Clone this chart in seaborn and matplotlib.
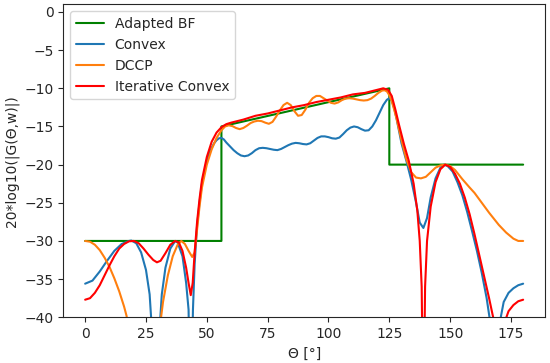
import matplotlib
matplotlib.use("Agg")
import matplotlib.pyplot as plt
import seaborn as sns

# Adapted beamformer target mask
bf_theta = [0, 56, 56, 125, 125, 180]
bf_gain = [-30, -30, -15, -10, -20, -20]

# Convex solution
cvx_theta = [0, 3, 6, 9, 12, 15, 18, 19, 21, 23, 25, 26.5, 27.5, 29, 30.5, 31.5, 33, 35, 37, 38,
             40, 41.5, 42.5, 43.4, 44.3, 45, 46, 47, 48, 50, 51, 52, 53, 54, 55, 56, 57, 58, 59.5,
             61, 62.5, 64, 65.5, 67, 68.5, 70, 71.5, 73, 74.5, 76, 77.5, 79, 80.5, 82, 83.5, 85,
             86.5, 88, 89.5, 91, 92.5, 94, 95.5, 97, 98.5, 100, 101.5, 103, 104.5, 106, 107.5, 109,
             110.5, 112, 113.5, 115, 116.5, 118, 119.5, 121, 122.5, 124, 125, 126, 127, 128, 129,
             130, 132, 134, 136, 137.5, 139, 140.5, 142, 144, 146, 147.5, 149, 151, 153, 155, 157,
             159, 161, 163, 165, 166.4, 168, 170.5, 172, 174, 176, 178, 180]
cvx_gain = [-35.6, -35.2, -34.0, -32.6, -31.3, -30.4, -30.0, -29.95, -30.3, -31.5, -33.8, -37, -42, -55,
            -42, -37, -33.5, -31, -30.0, -30.2, -32, -35.5, -39, -55, -39, -33, -28, -25, -22.5, -19.5,
            -18.5, -17.8, -17.2, -16.8, -16.55, -16.5, -16.7, -17.1, -17.6, -18.1, -18.5, -18.8, -18.9,
            -18.8, -18.5, -18.1, -17.85, -17.8, -17.85, -17.95, -18.05, -18.1, -17.95, -17.7, -17.45,
            -17.25, -17.15, -17.2, -17.3, -17.35, -17.2, -16.85, -16.5, -16.3, -16.3, -16.4, -16.55,
            -16.6, -16.45, -16.0, -15.5, -15.15, -15.0, -15.1, -15.35, -15.55, -15.5, -15.0, -14.2,
            -13.2, -12.2, -11.5, -11.3, -11.6, -12.6, -14.0, -15.6, -17.2, -19.5, -22, -25, -27.6,
            -28.3, -27, -24.3, -21.8, -20.4, -20.0, -20.2, -20.9, -22.3, -24, -26.2, -28.7, -31.3,
            -34.2, -37.5, -40.5, -50, -40.5, -38, -36.8, -36.2, -35.8, -35.6]

# DCCP solution
dccp_theta = [0, 2, 4, 6, 8, 10, 12, 14, 16, 17, 18, 20, 24, 28, 30, 31, 32, 34, 36, 38, 39.5, 41,
              42.5, 44, 45, 46, 47, 48, 50, 52, 54, 56, 57.5, 59, 60.5, 62, 63.5, 65, 66.5, 68, 69.5,
              71, 72.5, 74, 75.5, 77, 78.5, 80, 81.5, 83, 84.5, 86, 87.5, 89, 90.5, 92, 93.5, 95,
              96.5, 98, 99.5, 101, 102.5, 104, 105.5, 107, 108.5, 110, 111.5, 113, 114.5, 116, 117.5,
              119, 120.5, 122, 123, 124, 125, 126, 127, 128, 129, 130, 132, 134, 136, 138, 140, 142,
              144, 146, 148, 150, 152, 155, 158, 160, 163, 166, 170, 173, 176, 178, 180]
dccp_gain = [-30.0, -30.1, -30.5, -31.2, -32.2, -33.4, -34.9, -36.6, -38.6, -39.8, -41.5, -45, -55, -48,
             -43, -40.5, -38, -34.5, -32, -30.5, -30.0, -30.4, -31.3, -32.1, -31.5, -28.5, -25.5, -23,
             -20, -18, -16.5, -15.5, -15.0, -14.85, -14.95, -15.2, -15.35, -15.2, -14.9, -14.55,
             -14.35, -14.25, -14.3, -14.5, -14.65, -14.4, -13.7, -12.9, -12.2, -11.9, -12.2, -13.0,
             -13.6, -13.5, -12.8, -11.9, -11.3, -11.0, -11.0, -11.3, -11.6, -11.9, -12.0, -11.85,
             -11.55, -11.35, -11.3, -11.35, -11.45, -11.55, -11.6, -11.55, -11.35, -11.0, -10.6,
             -10.3, -10.25, -10.4, -10.9, -11.7, -12.8, -14.0, -15.4, -16.8, -19.3, -21.0, -21.7,
             -21.8, -21.6, -21.0, -20.4, -20.1, -20.0, -20.2, -20.7, -21.9, -23.0, -23.7, -25.0,
             -26.3, -27.9, -28.9, -29.7, -30.0, -30.0]

# Iterative convex solution
itc_theta = [0, 2, 4, 6, 8, 10, 12, 14, 16, 18, 20, 22, 24, 26, 28, 29.5, 31, 33, 35, 37, 38.5, 40,
             41.5, 42.5, 43.4, 44.2, 45, 46, 47, 48, 50, 52, 54, 56, 58, 60, 65, 70, 75, 80, 85, 90,
             95, 100, 105, 110, 115, 120, 122.5, 124.5, 126, 127.5, 129, 131, 133, 135, 136.5, 137.5,
             138.3, 139, 139.7, 140.5, 142, 144, 146, 148, 150, 152, 154, 156, 158, 160, 162, 164, 166,
             168, 170, 172, 174, 176, 178, 180]
itc_gain = [-37.7, -37.5, -36.8, -35.8, -34.5, -33.2, -32.0, -31.0, -30.4, -30.05, -30.0, -30.3, -31.0,
            -31.8, -32.5, -32.8, -32.6, -31.6, -30.5, -30.0, -30.2, -31.3, -33.5, -35.5, -37.1, -35.5,
            -31.5, -27.5, -24.5, -22, -19, -17, -15.8, -15.1, -14.7, -14.5, -14.1, -13.6, -13.3, -12.9,
            -12.5, -12.2, -11.8, -11.5, -11.2, -10.8, -10.6, -10.2, -10.0, -10.2, -11, -12.8, -14.8,
            -17.3, -19.5, -22.5, -26, -30, -36, -55, -36, -30, -25.5, -22.3, -20.6, -20.0, -20.3, -21.2,
            -22.5, -24.3, -26.5, -29.1, -31.9, -34.7, -37.5, -40.5, -50, -41, -39.2, -38.4, -37.9, -37.7]

sns.set_style("ticks")
fig, ax = plt.subplots(figsize=(5.5, 3.63), dpi=100)
fig.subplots_adjust(left=0.115, right=0.991, bottom=0.126, top=0.988)

series = [
    (bf_theta, bf_gain, "Adapted BF", "green"),
    (cvx_theta, cvx_gain, "Convex", "#1f77b4"),
    (dccp_theta, dccp_gain, "DCCP", "#ff7f0e"),
    (itc_theta, itc_gain, "Iterative Convex", "red"),
]
for th, g, name, col in series:
    sns.lineplot(x=th, y=g, label=name, color=col, linewidth=1.5,
                 estimator=None, sort=False, ax=ax)

ax.set_xlim(-9, 189)
ax.set_ylim(-40, 1)
ax.set_xticks([0, 25, 50, 75, 100, 125, 150, 175])
ax.set_yticks([0, -5, -10, -15, -20, -25, -30, -35, -40])
ax.set_xlabel("Θ [°]")
ax.set_ylabel("20*log10(|G(Θ,w)|)")
ax.legend(loc="upper left", fontsize=10)

fig.savefig("out.png", dpi=100)
